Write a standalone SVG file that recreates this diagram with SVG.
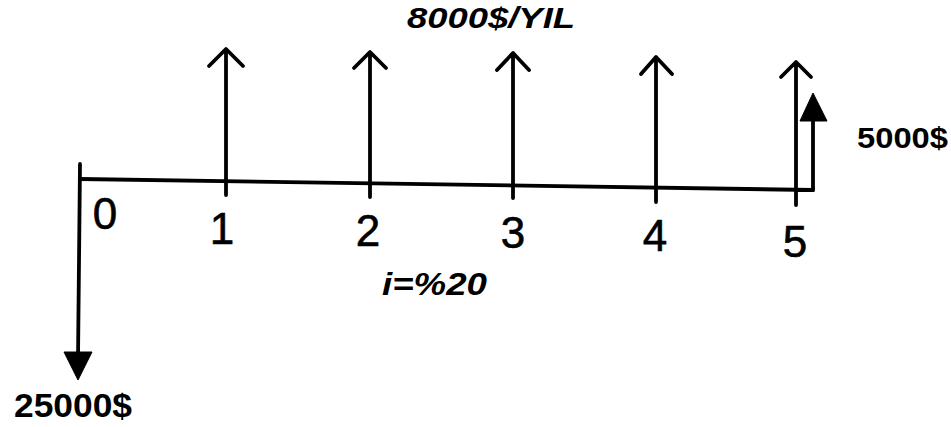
<svg xmlns="http://www.w3.org/2000/svg" width="951" height="427" viewBox="0 0 951 427">
<style>
.ln{stroke:#000;stroke-width:3.8;fill:none;stroke-linecap:round;stroke-linejoin:round}
.hd{fill:#000;stroke:#000;stroke-width:1;stroke-linejoin:round}
.num{font-family:"Liberation Sans",Arial,sans-serif;font-size:44px;fill:#000;text-anchor:middle;stroke:#000;stroke-width:0.6}
.amt{font-family:"Liberation Sans",Arial,sans-serif;font-weight:bold;fill:#000}
.it{font-family:"Liberation Sans",Arial,sans-serif;font-style:italic;font-weight:bold;fill:#000}
</style>
<rect width="951" height="427" fill="#fff"/>
<g id="connectors">
<path class="ln" d="M80,179 L813,190"/>
<path class="ln" d="M80,164 L78,360"/>
<polygon class="hd" points="64,352 92,352 78,380"/>
<path class="ln" d="M226,195 L226,50 M209,66 L226,49 L243,66"/>
<path class="ln" d="M370,197 L370,53 M354,68 L370,52 L386,68"/>
<path class="ln" d="M513,198 L513,54 M497,70 L513,53 L529,70"/>
<path class="ln" d="M656,202 L656,58 M641,74 L656,57 L672,74"/>
<path class="ln" d="M796,205 L796,63 M781,77 L796,62 L811,77"/>
<path class="ln" d="M796,190 L813,190 L813,118"/>
<polygon class="hd" points="800,121 827,121 813,93"/>
</g>
<g id="node-0"><text class="num" x="105" y="229">0</text></g>
<g id="node-1"><text class="num" x="222" y="244">1</text></g>
<g id="node-2"><text class="num" x="368" y="246">2</text></g>
<g id="node-3"><text class="num" x="513" y="248">3</text></g>
<g id="node-4"><text class="num" x="655" y="251">4</text></g>
<g id="node-5"><text class="num" x="795" y="257">5</text></g>
<g id="label-annual"><text class="it" x="407" y="28" font-size="29" textLength="168" lengthAdjust="spacingAndGlyphs">8000$/YIL</text></g>
<g id="label-rate"><text class="it" x="382" y="295" font-size="32" textLength="105" lengthAdjust="spacingAndGlyphs">i=%20</text></g>
<g id="label-salvage"><text class="amt" x="857" y="148" font-size="29" textLength="91" lengthAdjust="spacingAndGlyphs">5000$</text></g>
<g id="label-initial"><text class="amt" x="14" y="417" font-size="33" textLength="118" lengthAdjust="spacingAndGlyphs">25000$</text></g>
</svg>
